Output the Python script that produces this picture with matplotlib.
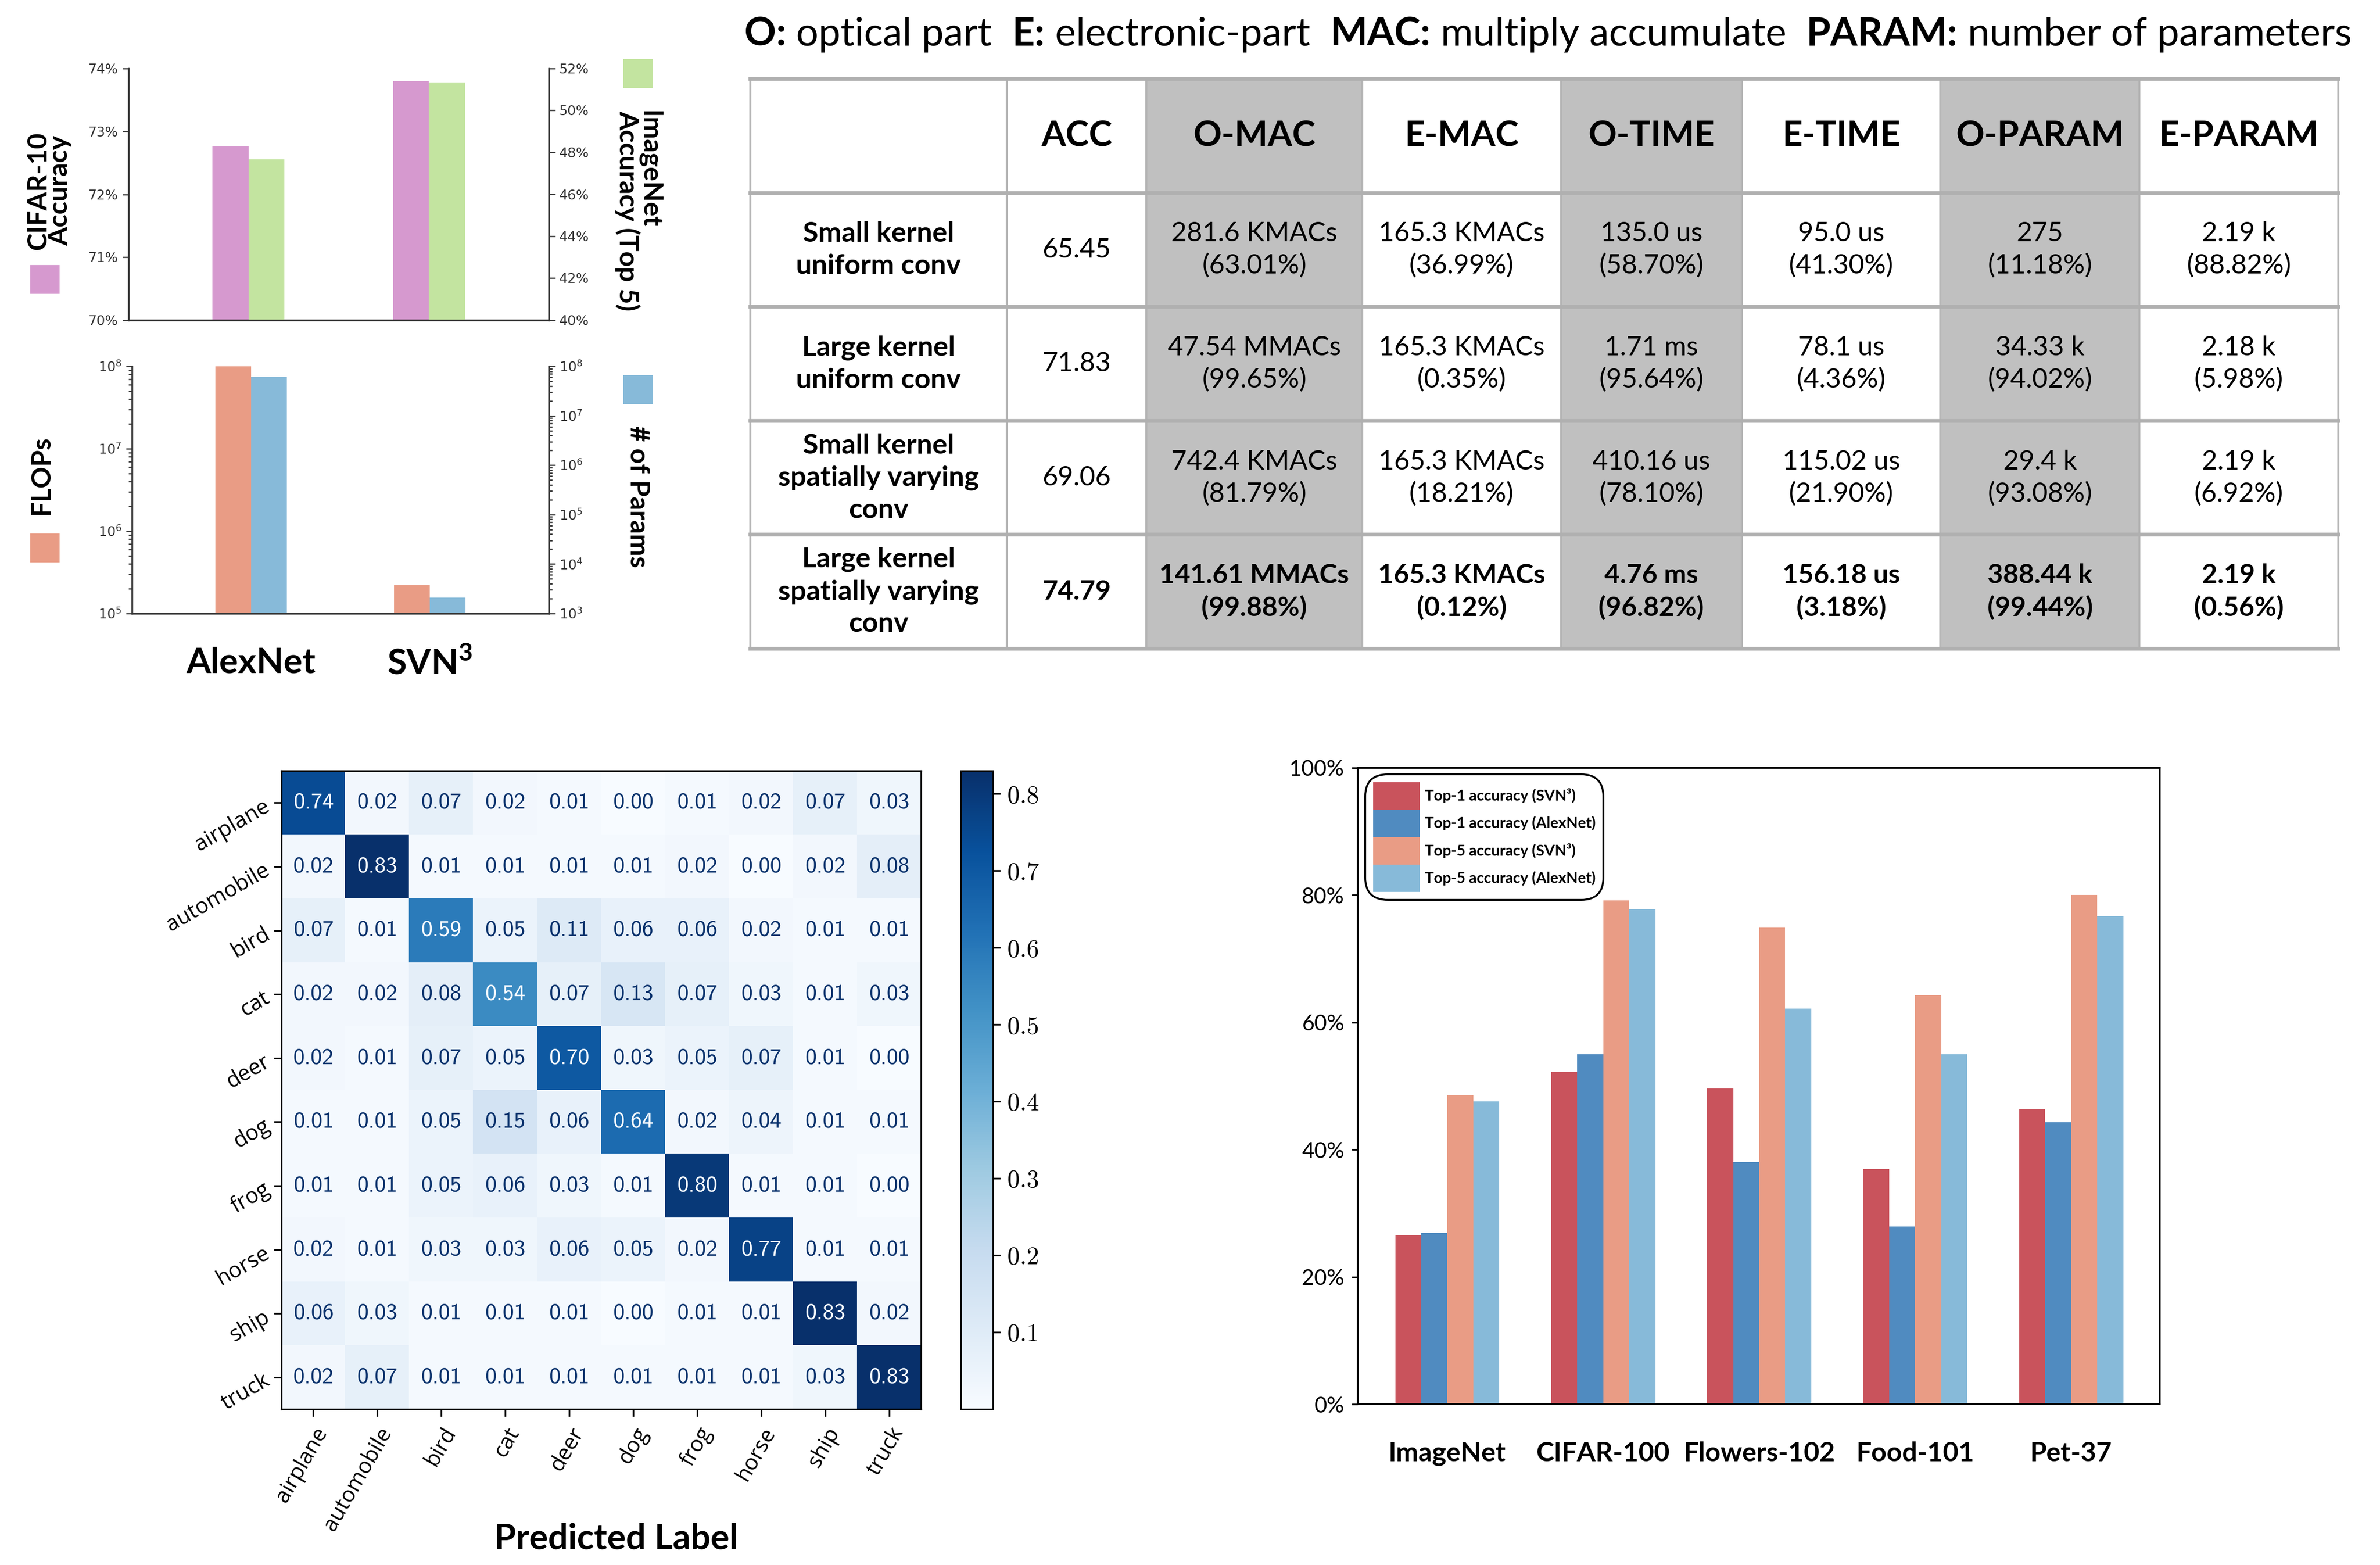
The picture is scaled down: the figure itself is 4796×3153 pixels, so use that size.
import matplotlib
matplotlib.use("Agg")
import matplotlib.pyplot as plt
from matplotlib.patches import Rectangle
from matplotlib.ticker import FuncFormatter
import numpy as np

plt.rcParams['mathtext.fontset'] = 'custom'
plt.rcParams['mathtext.rm'] = 'Lato'
plt.rcParams['mathtext.bf'] = 'Lato:bold'

# ---- data ----
models = ["AlexNet", r"SVN$^{\mathbf{3}}$"]
cifar10_acc = [72.76, 73.80]
imagenet_top5 = [47.68, 51.33]
flops = [1.0e8, 2.2e5]
n_params = [6.2e7, 2.1e3]

table_cols = ["", "ACC", "O-MAC", "E-MAC", "O-TIME", "E-TIME", "O-PARAM", "E-PARAM"]
table_rows = ["Small kernel\nuniform conv", "Large kernel\nuniform conv",
              "Small kernel\nspatially varying\nconv", "Large kernel\nspatially varying\nconv"]
acc = ["65.45", "71.83", "69.06", "74.79"]
o_mac = ["281.6 KMACs\n(63.01%)", "47.54 MMACs\n(99.65%)", "742.4 KMACs\n(81.79%)", "141.61 MMACs\n(99.88%)"]
e_mac = ["165.3 KMACs\n(36.99%)", "165.3 KMACs\n(0.35%)", "165.3 KMACs\n(18.21%)", "165.3 KMACs\n(0.12%)"]
o_time = ["135.0 us\n(58.70%)", "1.71 ms\n(95.64%)", "410.16 us\n(78.10%)", "4.76 ms\n(96.82%)"]
e_time = ["95.0 us\n(41.30%)", "78.1 us\n(4.36%)", "115.02 us\n(21.90%)", "156.18 us\n(3.18%)"]
o_param = ["275\n(11.18%)", "34.33 k\n(94.02%)", "29.4 k\n(93.08%)", "388.44 k\n(99.44%)"]
e_param = ["2.19 k\n(88.82%)", "2.18 k\n(5.98%)", "2.19 k\n(6.92%)", "2.19 k\n(0.56%)"]

classes = ["airplane", "automobile", "bird", "cat", "deer", "dog", "frog", "horse", "ship", "truck"]
conf = np.array([
    [0.74, 0.02, 0.07, 0.02, 0.01, 0.00, 0.01, 0.02, 0.07, 0.03],
    [0.02, 0.83, 0.01, 0.01, 0.01, 0.01, 0.02, 0.00, 0.02, 0.08],
    [0.07, 0.01, 0.59, 0.05, 0.11, 0.06, 0.06, 0.02, 0.01, 0.01],
    [0.02, 0.02, 0.08, 0.54, 0.07, 0.13, 0.07, 0.03, 0.01, 0.03],
    [0.02, 0.01, 0.07, 0.05, 0.70, 0.03, 0.05, 0.07, 0.01, 0.00],
    [0.01, 0.01, 0.05, 0.15, 0.06, 0.64, 0.02, 0.04, 0.01, 0.01],
    [0.01, 0.01, 0.05, 0.06, 0.03, 0.01, 0.80, 0.01, 0.01, 0.00],
    [0.02, 0.01, 0.03, 0.03, 0.06, 0.05, 0.02, 0.77, 0.01, 0.01],
    [0.06, 0.03, 0.01, 0.01, 0.01, 0.00, 0.01, 0.01, 0.83, 0.02],
    [0.02, 0.07, 0.01, 0.01, 0.01, 0.01, 0.01, 0.01, 0.03, 0.83],
])

datasets = ["ImageNet", "CIFAR-100", "Flowers-102", "Food-101", "Pet-37"]
top1_svn = [26.5, 52.2, 49.6, 37.0, 46.3]
top1_alex = [26.9, 55.0, 38.1, 27.9, 44.3]
top5_svn = [48.6, 79.2, 74.9, 64.3, 80.0]
top5_alex = [47.6, 77.8, 62.2, 55.0, 76.7]

PINK = '#d699cf'
GREEN = '#c3e4a0'
SALMON = '#e99c85'
LBLUE = '#87bad9'
RED = '#c9535c'
BLUE = '#508bc0'
SPINE = '#333333'
W, H = 4796, 3153

fig = plt.figure(figsize=(W / 300, H / 300), dpi=300)


def fx(px):
    return px / W


def fy(py):
    return 1 - py / H


def box(left, top, right, bottom):
    # pixel box -> figure fraction rect
    return [fx(left), fy(bottom), (right - left) / W, (bottom - top) / H]


# ---- top-left: accuracy bars ----
x = np.arange(len(models))
bw = 0.2
ax1 = fig.add_axes(box(259, 138, 1106, 645))
ax1.bar(x - bw / 2, cifar10_acc, bw, color=PINK)
ax1.set_ylim(70, 74)
ax1.set_yticks([70, 71, 72, 73, 74])
ax1.yaxis.set_major_formatter(FuncFormatter(lambda v, p: "%d%%" % v))
ax1r = ax1.twinx()
ax1r.bar(x + bw / 2, imagenet_top5, bw, color=GREEN)
ax1r.set_ylim(40, 52)
ax1r.set_yticks(np.arange(40, 53, 2))
ax1r.yaxis.set_major_formatter(FuncFormatter(lambda v, p: "%d%%" % v))
ax1.set_xlim(-0.665, 1.665)
ax1.set_xticks([])
for a in (ax1, ax1r):
    a.spines['top'].set_visible(False)
    for s in a.spines.values():
        s.set_color(SPINE)
        s.set_linewidth(0.8)
    a.tick_params(labelsize=6.5, colors=SPINE, length=3, width=0.6, pad=2)

# ---- top-left: flops / params bars ----
ax2 = fig.add_axes(box(266, 738, 1106, 1236))
ax2.bar(x - bw / 2, flops, bw, color=SALMON)
ax2.set_yscale('log')
ax2.set_ylim(1e5, 1e8)
ax2r = ax2.twinx()
ax2r.bar(x + bw / 2, n_params, bw, color=LBLUE)
ax2r.set_yscale('log')
ax2r.set_ylim(1e3, 1e8)
ax2.set_xlim(-0.665, 1.665)
ax2.set_xticks(x)
ax2.set_xticklabels(models, fontsize=17, fontweight='bold', family='Lato')
ax2.tick_params(axis='x', length=0, pad=16)
for a in (ax2, ax2r):
    a.spines['top'].set_visible(False)
    for s in a.spines.values():
        s.set_color(SPINE)
        s.set_linewidth(0.8)
    a.tick_params(axis='y', which='both', labelsize=6.5, colors=SPINE, width=0.6, pad=2)
    a.tick_params(axis='y', which='major', length=3)
    a.tick_params(axis='y', which='minor', length=1.6)

# legend squares and labels beside the small charts
for (px, py, c) in [(63, 536, PINK), (1258, 121, GREEN), (63, 1077, SALMON), (1258, 758, LBLUE)]:
    fig.patches.append(Rectangle((fx(px), fy(py + 54)), fx(55), 54 / H,
                                 transform=fig.transFigure, color=c))
lab_kw = dict(ha='center', va='center', fontsize=13, fontweight='bold', family='Lato')
fig.text(fx(99), fy(384), "CIFAR-10\nAccuracy", rotation=90, linespacing=0.85, **lab_kw)
fig.text(fx(1286), fy(425), "ImageNet\nAccuracy (Top 5)", rotation=270, linespacing=0.85,
         multialignment='left', **lab_kw)
fig.text(fx(83), fy(957), "FLOPs", rotation=90, **lab_kw)
fig.text(fx(1286), fy(1001), "# of Params", rotation=270, **lab_kw)

# ---- top-right: table ----
axt = fig.add_axes(box(1512, 159, 4712, 1307))
axt.axis('off')
pieces = [("O:", 'bold'), (" optical part  ", 'normal'), ("E:", 'bold'),
          (" electronic-part  ", 'normal'), ("MAC:", 'bold'), (" multiply accumulate  ", 'normal'),
          ("PARAM:", 'bold'), (" number of parameters", 'normal')]
prev = fig.text(fx(1500), fy(70), pieces[0][0], fontsize=19, fontweight='bold',
                family='Lato', va='center', ha='left')
for txt, wt in pieces[1:]:
    prev = axt.annotate(txt, xy=(1, 0), xycoords=prev, va='bottom', ha='left',
                        fontsize=19, fontweight=wt, family='Lato', annotation_clip=False)

cell_text = [table_cols] + [list(r) for r in zip(table_rows, acc, o_mac, e_mac, o_time, e_time, o_param, e_param)]
col_w = np.array([169, 92, 142, 131, 119, 131, 131, 131], dtype=float)
col_w = col_w / col_w.sum()
grey_cols = [2, 4, 6]
colors = [['#c0c0c0' if j in grey_cols else 'white' for j in range(8)] for i in range(5)]
tbl = axt.table(cellText=cell_text, cellColours=colors, colWidths=col_w, cellLoc='center',
                bbox=[0, 0, 1, 1])
tbl.auto_set_font_size(False)
for (i, j), cell in tbl.get_celld().items():
    cell.set_edgecolor('#b4b4b4')
    cell.set_linewidth(1.0)
    t = cell.get_text()
    t.set_family('Lato')
    t.set_fontsize(13)
    t.set_linespacing(1.36)
    if i == 0:
        t.set_fontsize(17)
        t.set_fontweight('bold')
    if j == 0:
        t.set_fontsize(13.5)
    if j == 0 or i == 4:
        t.set_fontweight('bold')
# horizontal rules are a bit heavier than the vertical ones
for yy in np.linspace(0, 1, len(cell_text) + 1):
    axt.axhline(yy, color='#b0b0b0', lw=1.8, clip_on=False, zorder=5)

# ---- bottom-left: confusion matrix ----
axc = fig.add_axes(box(567, 1553, 1856, 2839))
im = axc.imshow(conf, cmap='Blues', vmin=0.0, vmax=conf.max(), aspect='auto')
thresh = (conf.max() + conf.min()) / 2
for i in range(conf.shape[0]):
    for j in range(conf.shape[1]):
        col = '#f7fbff' if conf[i, j] > thresh else '#08306b'
        axc.text(j, i, '%.2f' % conf[i, j], ha='center', va='center', color=col,
                 fontsize=11, family='cmss10')
axc.set_xticks(range(len(classes)))
axc.set_yticks(range(len(classes)))
axc.set_xticklabels(classes, rotation=60, ha='right', rotation_mode='anchor', fontsize=10.5, family='Open Sans')
axc.set_yticklabels(classes, rotation=30, ha='right', rotation_mode='anchor', fontsize=10.5, family='Open Sans')
fig.text(fx(1242), fy(3100), "Predicted Label", ha='center', va='center',
         fontsize=17, fontweight='bold', family='Lato')
cax = fig.add_axes(box(1936, 1553, 2001, 2839))
cb = fig.colorbar(im, cax=cax, ticks=np.arange(0.1, 0.85, 0.1))
cb.ax.yaxis.set_major_formatter(FuncFormatter(lambda v, p: '%.1f' % v))
cb.ax.tick_params(labelsize=12, length=3.5, width=0.8)
for lab in cb.ax.get_yticklabels():
    lab.set_family('cmr10')
cb.outline.set_linewidth(0.8)

# ---- bottom-right: dataset accuracy bars ----
axb = fig.add_axes(box(2736, 1547, 4352, 2829))
xd = np.arange(len(datasets))
w = 1 / 6
axb.bar(xd - 1.5 * w, top1_svn, w, color=RED, label="Top-1 accuracy (SVN³)")
axb.bar(xd - 0.5 * w, top1_alex, w, color=BLUE, label="Top-1 accuracy (AlexNet)")
axb.bar(xd + 0.5 * w, top5_svn, w, color=SALMON, label="Top-5 accuracy (SVN³)")
axb.bar(xd + 1.5 * w, top5_alex, w, color=LBLUE, label="Top-5 accuracy (AlexNet)")
axb.set_xlim(-0.574, 4.567)
axb.set_ylim(0, 100)
axb.set_yticks(np.arange(0, 101, 20))
axb.yaxis.set_major_formatter(FuncFormatter(lambda v, p: "%d%%" % v))
axb.set_xticks(xd)
axb.set_xticklabels(datasets, fontsize=13, fontweight='bold', family='Lato')
axb.tick_params(axis='x', length=0, pad=18)
axb.tick_params(axis='y', labelsize=10.5, length=3, width=0.8)
for lab in axb.get_yticklabels():
    lab.set_family('Lato')
for s in axb.spines.values():
    s.set_linewidth(0.9)
leg = axb.legend(loc='upper left', bbox_to_anchor=(0.0093, 0.99), borderaxespad=0,
                 prop={'family': 'Lato', 'weight': 'bold', 'size': 7.3},
                 handlelength=3.1, handleheight=2.42, labelspacing=0.0, handletextpad=0.3,
                 borderpad=0.53, fancybox=True, edgecolor='black', framealpha=1)
leg.get_frame().set_linewidth(0.9)
leg.get_frame().set_boxstyle('round', pad=0, rounding_size=1.5)

fig.savefig("out.png", dpi=300)
